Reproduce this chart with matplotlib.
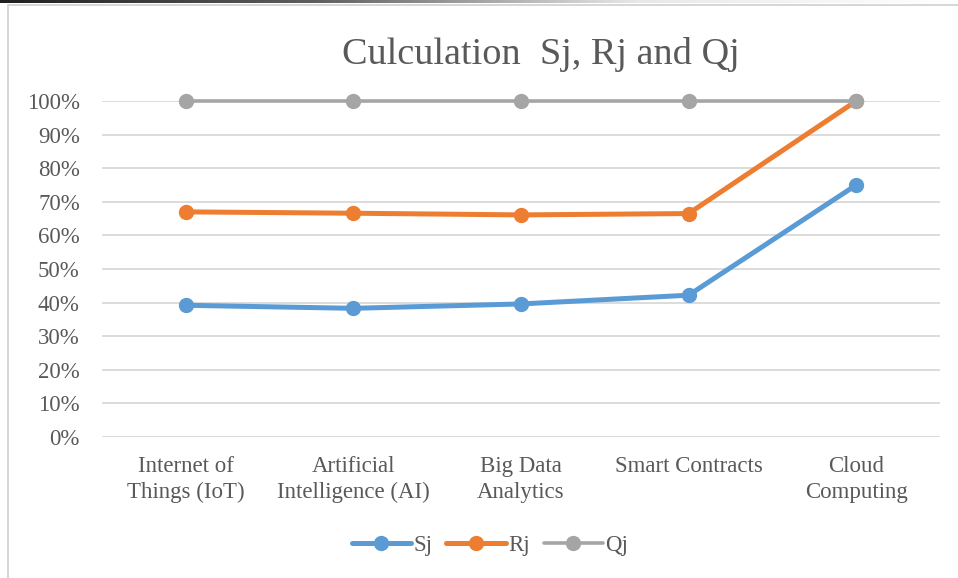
import matplotlib
matplotlib.use("Agg")
import matplotlib.pyplot as plt
import numpy as np
from matplotlib.patches import Rectangle
from matplotlib.ticker import PercentFormatter

categories = ["Internet of\nThings (IoT)", "Artificial\nIntelligence (AI)", "Big Data\nAnalytics",
              "Smart Contracts", "Cloud\nComputing"]
sj = [39.2, 38.3, 39.6, 42.2, 75.0]
rj = [67.0, 66.6, 66.1, 66.5, 100.0]
qj = [100, 100, 100, 100, 100]

plt.rcParams['font.family'] = ['Liberation Serif', 'DejaVu Serif']
text_c = "#595959"

fig = plt.figure(figsize=(9.58, 5.78), dpi=100)

# outer frame like the screenshot
fig.patches.append(Rectangle((8/958, -0.1), 1.2, (1 - 5/578) + 0.1, transform=fig.transFigure,
                             fill=False, edgecolor="#D0D0D0", lw=1.2, zorder=0))
gax = fig.add_axes([0, 1 - 3/578, 1, 3/578])
grad = np.linspace(0, 1, 256)[None, :]
gax.imshow(grad, aspect='auto', cmap=matplotlib.colors.LinearSegmentedColormap.from_list(
    "g", ["#202020", "#606060", "#E8E8E8", "#FFFFFF"]))
gax.axis('off')

ax = fig.add_axes([102/958, 1 - 437/578, (940 - 102)/958, (437 - 101)/578])
x = np.arange(len(categories))
ax.plot(x, sj, color="#5B9BD5", lw=3.6, marker='o', ms=10, label="Sj", zorder=3,
        solid_capstyle='round', clip_on=False)
ax.plot(x, rj, color="#ED7D31", lw=3.6, marker='o', ms=10, label="Rj", zorder=4,
        solid_capstyle='round', clip_on=False)
ax.plot(x, qj, color="#A5A5A5", lw=2.6, marker='o', ms=10, label="Qj", zorder=5,
        solid_capstyle='round', clip_on=False)

ax.set_xlim(-0.5, len(categories) - 0.5)
ax.set_ylim(0, 100)
ax.set_yticks(np.arange(0, 101, 10))
ax.yaxis.set_major_formatter(PercentFormatter(decimals=0))
ax.grid(axis='y', color="#D9D9D9", lw=1.3, zorder=0)
ax.set_axisbelow(True)
for s in ax.spines.values():
    s.set_visible(False)
ax.set_xticks(x)
ax.set_xticklabels(categories, fontsize=16.5, color=text_c, linespacing=1.3)
ax.tick_params(axis='x', length=0, pad=14)
ax.tick_params(axis='y', length=0, pad=16, labelsize=16.5, labelcolor=text_c)

fig.text(541/958, 1 - 55/578, "Culculation  Sj, Rj and Qj", ha='center', va='center',
         fontsize=27.5, color=text_c)

leg = fig.legend(loc='center', bbox_to_anchor=(490/958, 1 - 545/578), ncol=3, frameon=False,
                 fontsize=16.5, handlelength=2.6, handletextpad=0.1, columnspacing=0.6)
for t in leg.get_texts():
    t.set_color(text_c)

fig.savefig("out.png", dpi=100)
